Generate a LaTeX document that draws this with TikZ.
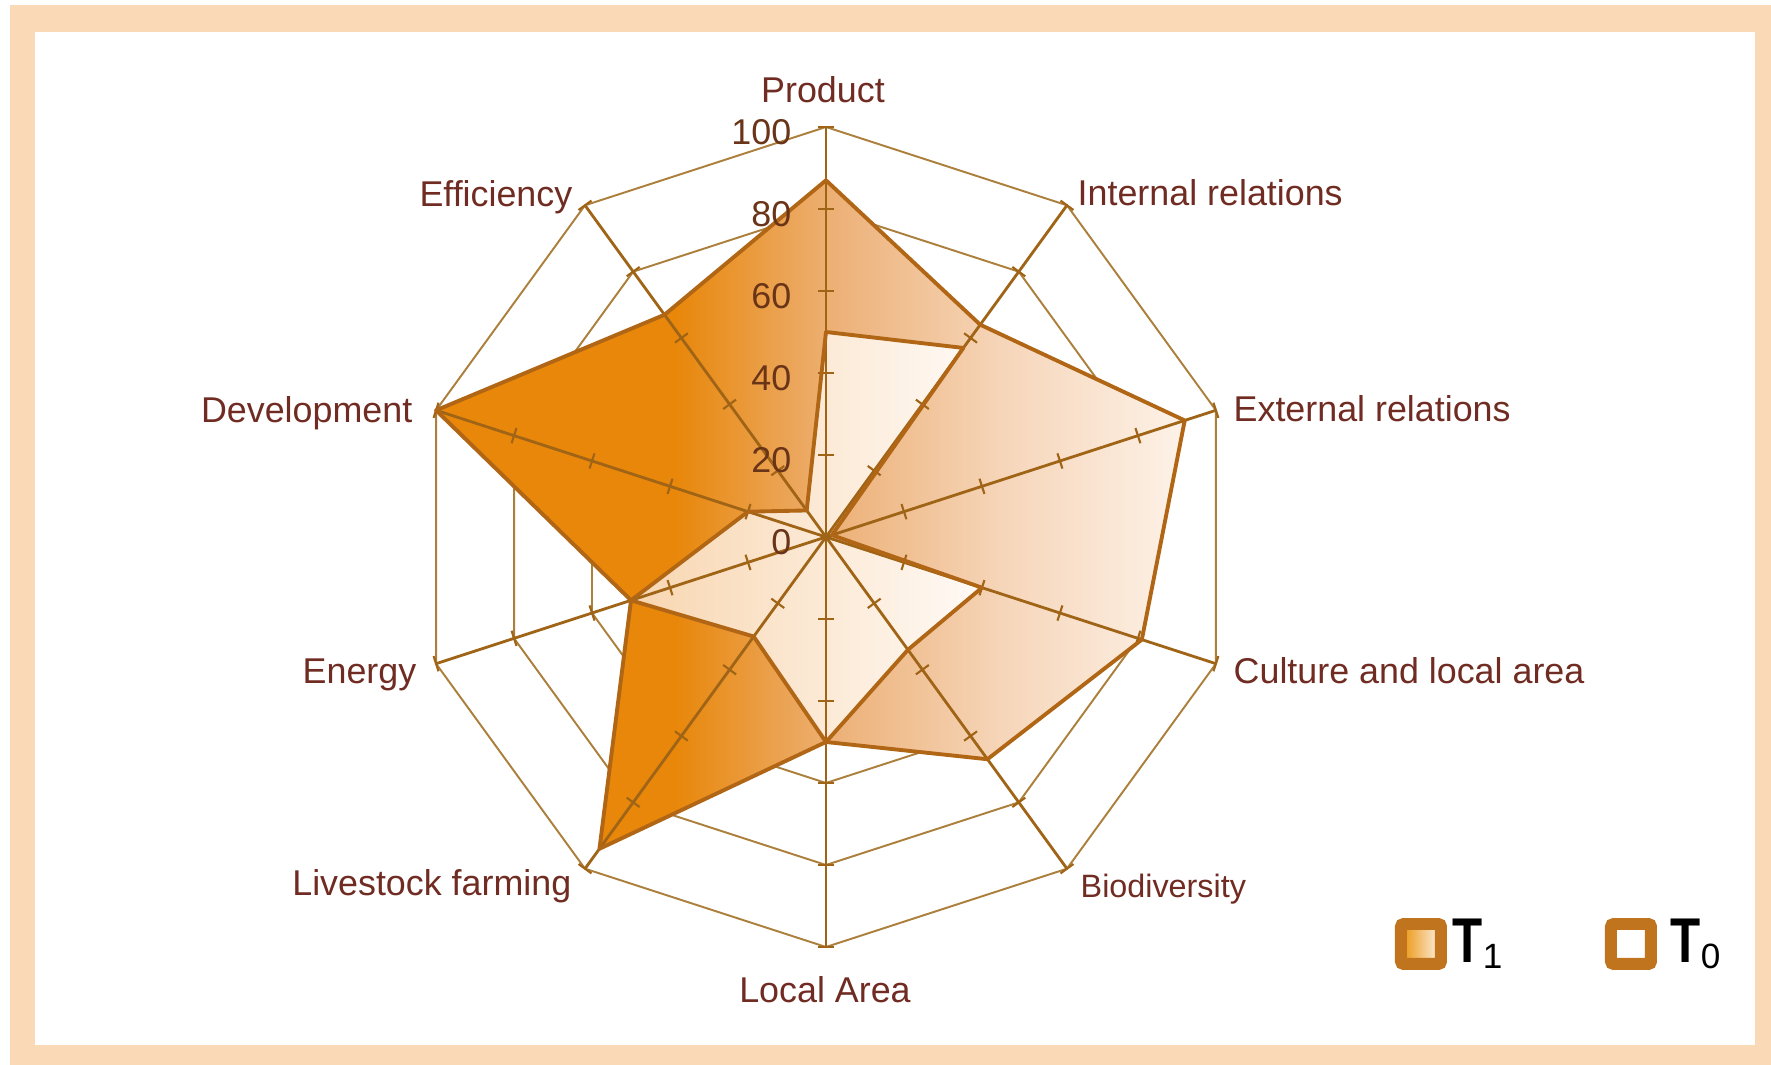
\documentclass[tikz,border=0pt]{standalone}
\usepackage{fontspec}
\usepackage{graphicx}
\setmainfont{Liberation Sans}
\usetikzlibrary{positioning, calc}

\definecolor{framecol}{RGB}{250,218,182}
\definecolor{gridcol}{RGB}{172,128,60}
\definecolor{spokecol}{RGB}{160,100,22}
\definecolor{edgecol}{RGB}{176,102,20}
\definecolor{labelcol}{RGB}{112,44,34}
\definecolor{numcol}{RGB}{105,52,24}
\definecolor{keyedge}{RGB}{192,116,30}
\definecolor{tdark}{RGB}{232,135,10}
\definecolor{tmid}{RGB}{237,178,122}
\definecolor{tpale}{RGB}{246,214,186}
\definecolor{tlight}{RGB}{253,242,232}
\definecolor{zleft}{RGB}{248,214,176}
\definecolor{zright}{RGB}{255,250,246}

\pgfdeclarehorizontalshading{tonefade}{100bp}{color(0bp)=(tdark); color(41bp)=(tdark); color(52bp)=(tmid); color(63bp)=(tpale); color(75bp)=(tlight); color(100bp)=(tlight)}

\newcommand{\keylabel}[1]{\scalebox{0.78}[1]{T}{\mdseries\fontsize{10}{12}\selectfont\raisebox{-0.3ex}{#1}}}

\begin{document}
\begin{tikzpicture}[
    ring/.style={draw=gridcol, line width=0.55pt},
    spoke/.style={draw=spokecol, line width=0.8pt},
    tickmark/.style={draw=spokecol, line width=0.6pt},
    outline/.style={draw=edgecol, line width=1.1pt, line join=round},
    lbl/.style={text=labelcol, font=\fontsize{10.2}{12}\selectfont, inner sep=0pt},
    scalenum/.style={text=numcol, font=\fontsize{10.2}{12}\selectfont, inner sep=0pt, anchor=base east},
    keybox/.style={draw=keyedge, line width=0.12cm, minimum size=0.40cm, inner sep=0pt, rounded corners=0.8pt},
    keytext/.style={font=\bfseries\fontsize{18}{20}\selectfont, inner sep=0pt}
]
% Frame
\useasboundingbox (-8.26,-5.28) rectangle (9.45,5.37);
\fill[white] (-8.26,-5.28) rectangle (9.45,5.37);
\fill[framecol] (-8.16,-5.28) rectangle (9.45,5.32);
\fill[white] (-7.91,-5.08) rectangle (9.29,5.05);

% Axes and values
\coordinate (hub) at (0,0);
\foreach \k in {0,...,9} \coordinate (ax-\k) at ({90-36*\k}:4.1);
\foreach \v [count=\k from 0] in {87,64,92,81,67,50,94,50,100,67}
    \coordinate (t1-\k) at ({90-36*\k}:{0.041*\v});
\foreach \v [count=\k from 0] in {50,57,1.5,40,34,50,30,50,20,8}
    \coordinate (t0-\k) at ({90-36*\k}:{0.041*\v});

% Rings
\foreach \r in {0.82,1.64,2.46,3.28,4.1}
    \draw[ring] (90:\r) \foreach \k in {1,...,9} { -- ({90-36*\k}:\r) } -- cycle;

% Fills
\shade[shading=tonefade] (t1-0) -- (t1-1) -- (t1-2) -- (t1-3) -- (t1-4) -- (t1-5) -- (t1-6) -- (t1-7) -- (t1-8) -- (t1-9) -- cycle;
\shade[left color=zleft, right color=zright] (t0-0) -- (t0-1) -- (t0-2) -- (t0-3) -- (t0-4) -- (t0-5) -- (t0-6) -- (t0-7) -- (t0-8) -- (t0-9) -- cycle;

% Spokes
\foreach \k in {0,...,9} {
    \draw[spoke] (hub) -- (ax-\k);
    \foreach \r in {0.82,1.64,2.46,3.28,4.1}
        \draw[tickmark, rotate={90-36*\k}] (\r,-0.08) -- (\r,0.08);
}

% Outlines
\draw[outline] (t1-0) -- (t1-1) -- (t1-2) -- (t1-3) -- (t1-4) -- (t1-5) -- (t1-6) -- (t1-7) -- (t1-8) -- (t1-9) -- cycle;
\draw[outline] (t0-0) -- (t0-1) -- (t0-2) -- (t0-3) -- (t0-4) -- (t0-5) -- (t0-6) -- (t0-7) -- (t0-8) -- (t0-9) -- cycle;

% Scale
\foreach \v in {0,20,...,100}
    \node[scalenum] (num-\v) at (-0.34,{0.041*\v-0.18}) {\v};

% Labels
\node[lbl, anchor=base] (lab-0) at (-0.03,4.34) {Product};
\node[lbl, anchor=base west] (lab-1) at (2.51,3.31) {Internal relations};
\node[lbl, anchor=base west] (lab-2) at (4.07,1.15) {External relations};
\node[lbl, anchor=base west] (lab-3) at (4.07,-1.47) {Culture and local area};
\node[lbl, anchor=base west, font=\fontsize{9.2}{11}\selectfont] (lab-4) at (2.54,-3.60) {Biodiversity};
\node[lbl, anchor=base] (lab-5) at (-0.01,-4.66) {Local Area};
\node[lbl, anchor=base east] (lab-6) at (-2.54,-3.59) {Livestock farming};
\node[lbl, anchor=base east] (lab-7) at (-4.09,-1.47) {Energy};
\node[lbl, anchor=base east] (lab-8) at (-4.13,1.14) {Development};
\node[lbl, anchor=base east] (lab-9) at (-2.53,3.30) {Efficiency};

% Legend
\node[keybox, left color=tdark!90!yellow, right color=tlight] (key-t1) at (5.95,-4.07) {};
\node[keytext, right=0.05cm of key-t1] (key-t1-text) {\keylabel{1}};
\node[keybox, fill=white] (key-t0) at (8.05,-4.07) {};
\node[keytext, right=0.13cm of key-t0] (key-t0-text) {\keylabel{0}};
\end{tikzpicture}
\end{document}
